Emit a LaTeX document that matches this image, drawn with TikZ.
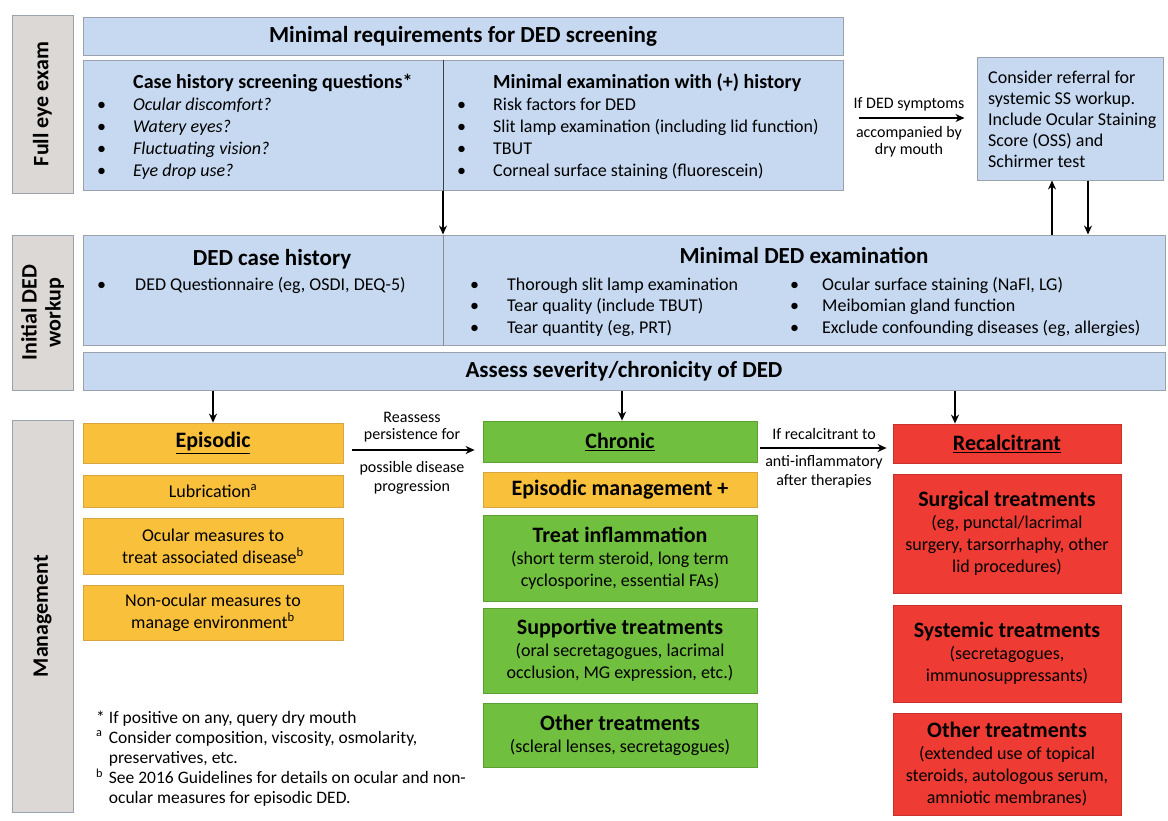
\documentclass[tikz,border=0pt]{standalone}
\usepackage{fontspec}
\setmainfont{Carlito}
\usetikzlibrary{arrows.meta}
\definecolor{lblue}{HTML}{C6D9F0}
\definecolor{bord}{HTML}{9AA3AD}
\definecolor{sideg}{HTML}{DBD8D6}
\definecolor{yel}{HTML}{F9C03C}
\definecolor{yelb}{HTML}{D9A540}
\definecolor{grn}{HTML}{70BF3E}
\definecolor{grnb}{HTML}{5C9F34}
\definecolor{redc}{HTML}{EE3B34}
\definecolor{redb}{HTML}{C8302A}
\newcommand\sidefont{\fontsize{22}{24}\selectfont\bfseries}
\newcommand\hdfont{\fontsize{23}{26}\selectfont\bfseries}
\newcommand\sbfont{\fontsize{20}{22}\selectfont\bfseries}
\newcommand\bdfont{\fontsize{18}{22}\selectfont}
\newcommand\lbfont{\fontsize{16}{18}\selectfont}
\newcommand\bxhead{\fontsize{22}{26}\selectfont\bfseries}
\newcommand\bul{\textbullet}
\begin{document}
\begin{tikzpicture}[x=1pt,y=-1pt,
  side/.style={draw=bord, fill=sideg, line width=1pt, rotate=90, font=\sidefont, align=center, inner sep=0pt},
  bbox/.style={draw=bord, fill=lblue, line width=1pt, inner sep=0pt, align=center},
  ybox/.style={draw=yelb, fill=yel, line width=0.8pt, inner sep=0pt, align=center, font=\bdfont, minimum width=260pt},
  gbox/.style={draw=grnb, fill=grn, line width=0.8pt, inner sep=0pt, align=center, font=\bdfont, minimum width=274pt},
  rbox/.style={draw=redb, fill=redc, line width=0.8pt, inner sep=0pt, align=center, font=\bdfont, minimum width=228pt},
  divl/.style={draw=black!75, line width=0.8pt},
  arr/.style={line width=2.2pt, -{Stealth[length=9pt,width=8pt]}},
  lbl/.style={font=\lbfont, inner sep=0pt, align=center},
  txt/.style={inner sep=0pt, anchor=base west}]
\useasboundingbox (0,0) rectangle (1168,820);
\fill[white] (0,0) rectangle (1168,820);

% side labels
\node[side, minimum width=178pt, minimum height=61pt] (fe) at (42.5,104) {Full eye exam};
\node[side, minimum width=155pt, minimum height=61pt] (iw) at (42.5,312.5) {Initial DED\\workup};
\node[side, minimum width=392pt, minimum height=61pt] (mg) at (42.5,616) {Management};

% screening
\node[bbox, minimum width=760pt, minimum height=38pt, font=\hdfont] (hdr) at (463,36) {Minimal requirements for DED screening};
\node[bbox, minimum width=760pt, minimum height=130pt] (scr) at (463,125) {};
\coordinate (dx) at (443,0);
\draw[divl] (scr.north -| dx) -- (scr.south -| dx);
\node[txt] (csq) at (97,88) {\bdfont\begin{tabular}[t]{@{}p{36pt}@{}l@{}}
 & {\sbfont Case history screening questions*}\\
 \bul & \textit{Ocular discomfort?}\\
 \bul & \textit{Watery eyes?}\\
 \bul & \textit{Fluctuating vision?}\\
 \bul & \textit{Eye drop use?}
\end{tabular}};
\node[txt] (mex) at (457,88) {\bdfont\begin{tabular}[t]{@{}p{36pt}@{}l@{}}
 & {\sbfont Minimal examination with (+) history}\\
 \bul & Risk factors for DED\\
 \bul & Slit lamp examination (including lid function)\\
 \bul & TBUT\\
 \bul & Corneal surface staining (fluorescein)
\end{tabular}};

% referral
\node[bbox, minimum width=186pt, minimum height=123pt] (ref) at (1070,118.5) {};
\node[txt] (reft) at (988,83) {\fontsize{18}{21}\selectfont\begin{tabular}[t]{@{}l@{}}
Consider referral for\\ systemic SS workup.\\ Include Ocular Staining\\ Score (OSS) and\\ Schirmer test
\end{tabular}};
\coordinate (ay) at (0,118);
\draw[arr, shorten <=15pt, shorten >=12pt] (scr.east |- ay) -- (ref.west |- ay);
\node[lbl] (l1) at (909,104) {If DED symptoms};
\node[lbl] (l2) at (909,133) {accompanied by};
\node[lbl] (l3) at (909,150) {dry mouth};

% workup
\node[bbox, minimum width=1082pt, minimum height=110pt] (wk) at (624,290) {};
\draw[divl, draw=black!45] (wk.north -| dx) -- (wk.south -| dx);
\draw[arr] (scr.south -| dx) -- (wk.north -| dx);
\coordinate (c1) at (1052,0);
\coordinate (c2) at (1088,0);
\draw[arr] (wk.north -| c1) -- (ref.south -| c1);
\draw[arr] (ref.south -| c2) -- (wk.north -| c2);
\node[inner sep=0pt, anchor=base, font=\fontsize{23}{26}\selectfont\bfseries] (dch) at (272,265) {DED case history};
\node[txt] (dchl) at (97,290) {\bdfont\makebox[38pt][l]{\bul}DED Questionnaire (eg, OSDI, DEQ-5)};
\node[inner sep=0pt, anchor=base, font=\fontsize{23}{26}\selectfont\bfseries] (mde) at (804,263) {Minimal DED examination};
\node[txt] (mdl) at (470,290) {\fontsize{18}{21.5}\selectfont\begin{tabular}[t]{@{}p{37pt}@{}l@{}}
 \bul & Thorough slit lamp examination\\
 \bul & Tear quality (include TBUT)\\
 \bul & Tear quantity (eg, PRT)
\end{tabular}};
\node[txt] (mdr) at (790,290) {\fontsize{18}{21.5}\selectfont\begin{tabular}[t]{@{}p{32pt}@{}l@{}}
 \bul & Ocular surface staining (NaFl, LG)\\
 \bul & Meibomian gland function\\
 \bul & Exclude confounding diseases (eg, allergies)
\end{tabular}};

% assess
\node[bbox, minimum width=1082pt, minimum height=38pt, font=\hdfont] (as) at (624,371) {Assess severity/chronicity of DED};

% episodic
\node[ybox, minimum height=40pt, font=\bxhead] (epi) at (213,443) {\underline{Episodic}};
\node[ybox, minimum height=32pt] (lub) at (213,491) {Lubrication\textsuperscript{a}};
\node[ybox, minimum height=56pt] (ocu) at (213,546) {Ocular measures to\\treat associated disease\textsuperscript{b}};
\node[ybox, minimum height=55pt] (noc) at (213,612.5) {Non-ocular measures to\\manage environment\textsuperscript{b}};

% chronic
\node[gbox, minimum height=41pt, font=\bxhead] (chr) at (620,441.5) {\underline{Chronic}};
\node[ybox, minimum width=274pt, minimum height=35pt, font=\bxhead] (epm) at (620,489.5) {Episodic management +};
\node[gbox, minimum height=86pt] (inf) at (620,558) {{\bxhead Treat inflammation}\\(short term steroid, long term\\cyclosporine, essential FAs)};
\node[gbox, minimum height=85pt] (sup) at (620,650.5) {{\bxhead Supportive treatments}\\(oral secretagogues, lacrimal\\occlusion, MG expression, etc.)};
\node[gbox, minimum height=64pt] (oth) at (620,735) {{\bxhead Other treatments}\\(scleral lenses, secretagogues)};

% recalcitrant
\node[rbox, minimum height=39pt, font=\bxhead] (rec) at (1007,443.5) {\underline{Recalcitrant}};
\node[rbox, minimum height=119pt] (sur) at (1007,533.5) {{\bxhead Surgical treatments}\\(eg, punctal/lacrimal\\surgery, tarsorrhaphy, other\\lid procedures)};
\node[rbox, minimum height=97pt] (sys) at (1007,653.5) {{\bxhead Systemic treatments}\\(secretagogues,\\immunosuppressants)};
\node[rbox, minimum height=102pt] (otr) at (1007,764) {{\bxhead Other treatments}\\(extended use of topical\\steroids, autologous serum,\\amniotic membranes)};

% arrows from assess
\coordinate (a1) at (213,0);
\coordinate (a2) at (622,0);
\coordinate (a3) at (955,0);
\draw[arr] (as.south -| a1) -- (epi.north -| a1);
\draw[arr] (as.south -| a2) -- (chr.north -| a2);
\draw[arr] (as.south -| a3) -- (rec.north -| a3);

% horizontal transitions
\coordinate (e1) at (0,450);
\coordinate (e2) at (0,448);
\draw[arr, shorten <=9pt, shorten >=8pt] (epi.east |- e1) -- (chr.west |- e1);
\node[lbl] (r1) at (412,417) {Reassess};
\node[lbl] (r2) at (412,435) {persistence for};
\node[lbl] (r3) at (412,468) {possible disease};
\node[lbl] (r4) at (412,487) {progression};
\draw[arr, shorten <=3pt, shorten >=6pt] (chr.east |- e2) -- (rec.west |- e2);
\node[lbl] (s1) at (824,434) {If recalcitrant to};
\node[lbl] (s2) at (824,462) {anti-inflammatory};
\node[lbl] (s3) at (824,481) {after therapies};

% footnotes
\node[txt] (fn) at (96,723) {\fontsize{17.5}{20}\selectfont\begin{tabular}[t]{@{}l@{\hspace{4pt}}l@{}}
 * & If positive on any, query dry mouth\\
 \textsuperscript{a} & Consider composition, viscosity, osmolarity,\\
  & preservatives, etc.\\
 \textsuperscript{b} & See 2016 Guidelines for details on ocular and non-\\
  & ocular measures for episodic DED.
\end{tabular}};
\end{tikzpicture}
\end{document}
